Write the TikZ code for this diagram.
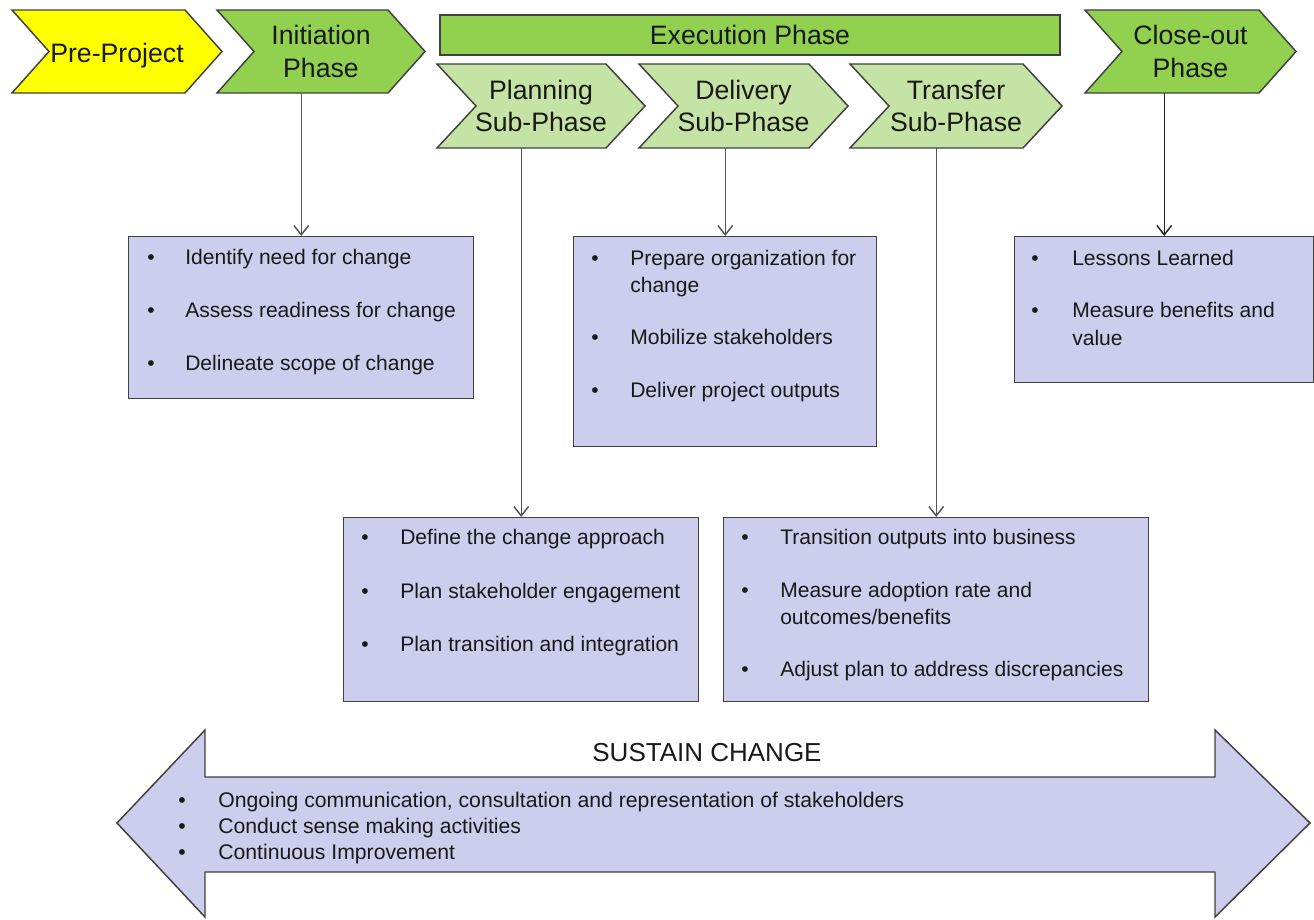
\documentclass[tikz,border=0pt]{standalone}
\usepackage{fontspec}
\setmainfont{Liberation Sans}
\usetikzlibrary{arrows.meta}
\definecolor{yel}{RGB}{255,255,0}
\definecolor{grn}{RGB}{146,208,80}
\definecolor{lgrn}{RGB}{197,227,165}
\definecolor{lav}{RGB}{205,205,238}
\definecolor{edge}{RGB}{64,64,64}
\definecolor{connc}{RGB}{85,85,85}
\newcommand\mychev[9]{%
 \filldraw[shapeline, fill=#7] ({#2-#4/2},{#3-#5/2}) -- ({#2+#4/2-#6},{#3-#5/2}) -- ({#2+#4/2},#3) -- ({#2+#4/2-#6},{#3+#5/2}) -- ({#2-#4/2},{#3+#5/2}) -- ({#2-#4/2+#6},#3) -- cycle;
 \node[chevtext, minimum width=#4*0.75pt, minimum height=#5*0.75pt, #9] (#1) at (#2,#3) {#8};}
\newcommand\bitem[5]{%
 \node[bul] (#1b) at (#2,#4) {•};
 \node[bul] (#1) at (#3,#4) {#5};}
\newcommand\bcont[4]{\node[bul] (#1) at (#2,#3) {#4};}
\begin{document}
\begin{tikzpicture}[x=0.75pt,y=-0.75pt,
  shapeline/.style={draw=edge, line width=1.1pt},
  chevtext/.style={inner sep=0pt, align=center, font=\fontsize{20}{24.5}\selectfont, text=black!90},
  infobox/.style={shapeline, fill=lav, inner sep=0pt, anchor=north west},
  bul/.style={anchor=mid west, inner sep=0pt, yshift=-3pt, font=\fontsize{15.8}{19}\selectfont, text=black!90},
  sbul/.style={anchor=mid west, inner sep=0pt, yshift=-3pt, font=\fontsize{15.9}{18}\selectfont, text=black!90},
  connector/.style={draw=connc, line width=1.1pt, -{Straight Barb[length=7pt,width=11pt,line width=1.1pt]}},
]
\useasboundingbox[fill=white] (0,0) rectangle (1314,920);

% top row chevrons
\mychev{pre}{117}{51.5}{210}{83}{37}{yel}{Pre-Project}{yshift=-3pt}
\mychev{init}{321}{51.5}{208}{83}{37}{grn}{Initiation\\Phase}{}
\mychev{close}{1190.5}{51.5}{211}{83}{37}{grn}{Close-out\\Phase}{}
\node[shapeline, fill=grn, minimum width=620*0.75pt, minimum height=40*0.75pt, inner sep=0pt,
  font=\fontsize{20}{24}\selectfont, text=black!90] (exec) at (750,35) {Execution Phase};
\mychev{plan}{541}{106}{208}{84}{39}{lgrn}{Planning\\Sub-Phase}{}
\mychev{deliv}{743.5}{106}{209}{84}{39}{lgrn}{Delivery\\Sub-Phase}{}
\mychev{trans}{956}{106}{212}{84}{39}{lgrn}{Transfer\\Sub-Phase}{}

% boxes
\node[infobox, minimum width=345*0.75pt, minimum height=162*0.75pt] (b1) at (128,236) {};
\node[infobox, minimum width=303*0.75pt, minimum height=210*0.75pt] (b2) at (573,236) {};
\node[infobox, minimum width=299*0.75pt, minimum height=146*0.75pt] (b3) at (1014,236) {};
\node[infobox, minimum width=355*0.75pt, minimum height=184*0.75pt] (b4) at (343,517) {};
\node[infobox, minimum width=425*0.75pt, minimum height=184*0.75pt] (b5) at (723,517) {};

% box texts
\bitem{t11}{147}{185}{257}{Identify need for change}
\bitem{t12}{147}{185}{310}{Assess readiness for change}
\bitem{t13}{147}{185}{363}{Delineate scope of change}

\bitem{t21}{591}{630}{258}{Prepare organization for}
\bcont{t21c}{630}{285}{change}
\bitem{t22}{591}{630}{337}{Mobilize stakeholders}
\bitem{t23}{591}{630}{390}{Deliver project outputs}

\bitem{t31}{1031}{1072}{258}{Lessons Learned}
\bitem{t32}{1031}{1072}{310}{Measure benefits and}
\bcont{t32c}{1072}{338}{value}

\bitem{t41}{361}{400}{537}{Define the change approach}
\bitem{t42}{361}{400}{591}{Plan stakeholder engagement}
\bitem{t43}{361}{400}{644}{Plan transition and integration}

\bitem{t51}{741}{780}{537}{Transition outputs into business}
\bitem{t52}{741}{780}{590}{Measure adoption rate and}
\bcont{t52c}{780}{617}{outcomes/benefits}
\bitem{t53}{741}{780}{669}{Adjust plan to address discrepancies}

% connectors
\draw[connector] (init.south -| b1.north) -- (b1.north);
\draw[connector] (plan.south -| b4.north) -- (b4.north);
\draw[connector] (deliv.south -| b2.north) -- (b2.north);
\draw[connector] (trans.south -| b5.north) -- (b5.north);
\draw[connector, draw=black!85] (close.south -| b3.north) -- (b3.north);

% sustain change double arrow
\filldraw[shapeline, fill=lav] (117,823) -- (205,730) -- (205,777) -- (1215,777) -- (1215,730)
  -- (1310,823) -- (1215,917) -- (1215,872) -- (205,872) -- (205,917) -- cycle;
\node[inner sep=0pt, font=\fontsize{19.5}{23}\selectfont, text=black!90] (sus) at (707,753) {SUSTAIN CHANGE};
\node[sbul] (s1b) at (178,800) {•};
\node[sbul] (s1) at (218,800) {Ongoing communication, consultation and representation of stakeholders};
\node[sbul] (s2b) at (178,826) {•};
\node[sbul] (s2) at (218,826) {Conduct sense making activities};
\node[sbul] (s3b) at (178,852) {•};
\node[sbul] (s3) at (218,852) {Continuous Improvement};
\end{tikzpicture}
\end{document}
